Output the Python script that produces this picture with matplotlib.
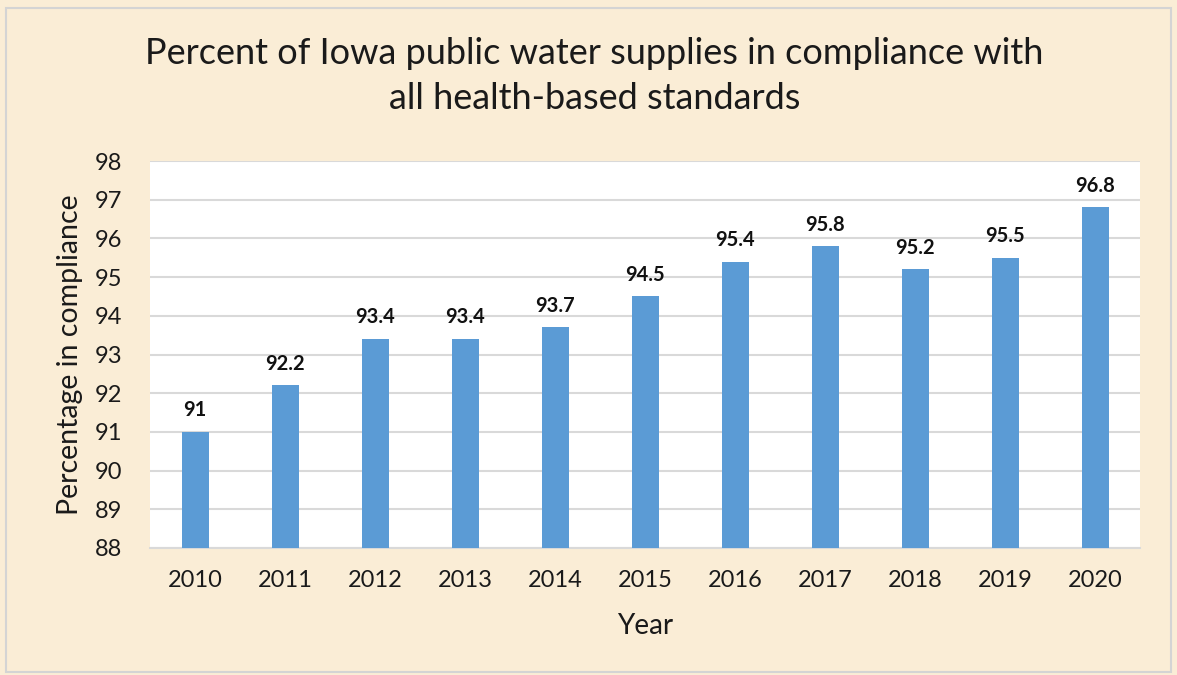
import numpy as np
from matplotlib import pyplot as plt

years = ["2010", "2011", "2012", "2013", "2014", "2015", "2016", "2017", "2018", "2019", "2020"]
compliance = [91, 92.2, 93.4, 93.4, 93.7, 94.5, 95.4, 95.8, 95.2, 95.5, 96.8]
labels = ["91", "92.2", "93.4", "93.4", "93.7", "94.5", "95.4", "95.8", "95.2", "95.5", "96.8"]

plt.rcParams["font.family"] = ["Lato", "DejaVu Sans"]

fig = plt.figure(figsize=(11.77, 6.75), dpi=100)
fig.patch.set_facecolor("#FAEDD6")

# thin frame around the picture
fig.add_artist(plt.Rectangle((6 / 1177, 0.005), 1 - 12 / 1177, 1 - 8 / 675 - 0.005,
                             fill=False, edgecolor="#D4D4D4", linewidth=1.5,
                             transform=fig.transFigure))

ax = fig.add_axes([150 / 1177, 1 - 548 / 675, 990 / 1177, 387 / 675])
ax.set_facecolor("white")

x = np.arange(len(years))
ax.bar(x, np.array(compliance) - 88, bottom=88, width=0.3, color="#5B9BD5", zorder=3)

for xi, v, lab in zip(x, compliance, labels):
    ax.text(xi, v + 0.3, lab, ha="center", va="bottom", fontsize=14.5,
            fontweight="bold", color="#111111")

ax.set_ylim(88, 98)
ax.set_xlim(-0.5, len(years) - 0.5)
ax.set_yticks(range(88, 99))
ax.set_xticks(x)
ax.set_xticklabels(years)
ax.tick_params(axis="both", length=0, labelsize=17, colors="#1a1a1a")
ax.tick_params(axis="x", pad=16)
ax.tick_params(axis="y", pad=20)
ax.grid(axis="y", color="#D9D9D9", linewidth=1.5, zorder=0)
for s in ["left", "right", "top"]:
    ax.spines[s].set_visible(False)
ax.spines["bottom"].set_color("#D9D9D9")
ax.spines["bottom"].set_linewidth(1.5)

ax.set_xlabel("Year", fontsize=20, color="#1a1a1a", labelpad=16)
ax.set_ylabel("Percentage in compliance", fontsize=20.5, color="#1a1a1a", labelpad=8)

fig.text(0.505, 1 - 76 / 675, "Percent of Iowa public water supplies in compliance with\nall health-based standards",
         ha="center", va="center", fontsize=26, color="#1a1a1a", linespacing=1.45)

fig.savefig("out.png", dpi=100, facecolor=fig.get_facecolor())
